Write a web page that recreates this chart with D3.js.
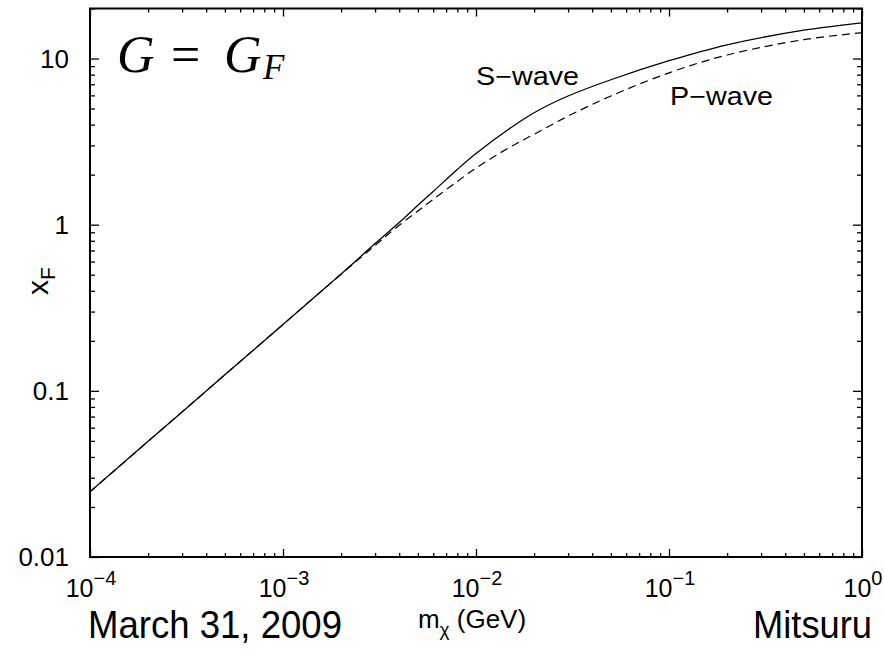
<!DOCTYPE html>
<html>
<head>
<meta charset="utf-8">
<script src="https://cdn.jsdelivr.net/npm/d3@7"></script>
<style>
  body { margin: 0; background: #fff; }
  svg { display: block; }
  text { font-family: "Liberation Sans", Arial, sans-serif; fill: #000; }
</style>
</head>
<body>
<div id="chart"></div>
<script>
// dark matter mass (GeV) and freeze-out x_F
var massGeV  = [1e-4, 3e-4, 1e-3, 2e-3, 3e-3, 4e-3, 5e-3, 6e-3, 8e-3, 1e-2, 1.5e-2, 2e-2, 3e-2, 5e-2, 0.1, 0.2, 0.5, 1];
var xF_sWave = [0.0247, 0.0747, 0.251, 0.505, 0.77, 1.03, 1.31, 1.585, 2.15, 2.68, 3.8, 4.72, 5.95, 7.45, 9.7, 12.1, 14.8, 16.4];
var xF_pWave = [0.0247, 0.0747, 0.251, 0.503, 0.75, 0.992, 1.21, 1.42, 1.82, 2.19, 2.93, 3.5, 4.5, 5.95, 8.2, 10.5, 13.0, 14.3];

var xMajor = [1e-4, 1e-3, 1e-2, 1e-1, 1];
var xExp   = ["\u22124", "\u22123", "\u22122", "\u22121", "0"];
var yMajor = [0.01, 0.1, 1, 10];
var yLabels = ["0.01", "0.1", "1", "10"];

var W = 884, H = 651;
var pLeft = 90, pRight = 862, pTop = 8.5, pBottom = 557;

var svg = d3.select("#chart").append("svg").attr("width", W).attr("height", H);
svg.append("rect").attr("width", W).attr("height", H).attr("fill", "#fff");

var x = d3.scaleLog().domain([1e-4, 1]).range([pLeft, pRight]);
var y = d3.scaleLog().domain([0.01, 20]).range([pBottom, pTop]);

function minors(lo, hi) {
	var out = [];
	for (var e = lo; e < hi; e++)
		for (var k = 2; k <= 9; k++) out.push(k * Math.pow(10, e));
	return out;
}
var xMinor = minors(-4, 0);
var yMinor = minors(-2, 2).filter(function(v) { return v <= 20; });

function tickAxis(axis, ticks, size, transform) {
	var g = svg.append("g").attr("transform", transform)
		.call(axis.tickValues(ticks).tickSize(size).tickFormat(""));
	g.select(".domain").remove();
	g.selectAll("line").attr("stroke", "#000").attr("stroke-width", 1.3);
}
// inward ticks on all four sides
tickAxis(d3.axisBottom(x), xMajor, -8, "translate(0," + pBottom + ")");
tickAxis(d3.axisBottom(x), xMinor, -4, "translate(0," + pBottom + ")");
tickAxis(d3.axisTop(x), xMajor, -8, "translate(0," + pTop + ")");
tickAxis(d3.axisTop(x), xMinor, -4, "translate(0," + pTop + ")");
tickAxis(d3.axisLeft(y), yMajor, -9, "translate(" + pLeft + ",0)");
tickAxis(d3.axisLeft(y), yMinor, -5, "translate(" + pLeft + ",0)");
tickAxis(d3.axisRight(y), yMajor, -9, "translate(" + pRight + ",0)");
tickAxis(d3.axisRight(y), yMinor, -5, "translate(" + pRight + ",0)");

svg.append("rect")
	.attr("x", pLeft).attr("y", pTop)
	.attr("width", pRight - pLeft).attr("height", pBottom - pTop)
	.attr("fill", "none").attr("stroke", "#000").attr("stroke-width", 2);

// tick labels
svg.selectAll(".ylab").data(yMajor).enter().append("text")
	.attr("x", 69).attr("y", function(d) { return y(d); })
	.attr("dy", "0.36em")
	.attr("text-anchor", "end")
	.style("font-size", "26px")
	.text(function(d, i) { return yLabels[i]; });

var xl = svg.selectAll(".xlab").data(xMajor).enter().append("text")
	.attr("x", function(d) { return x(d) + 1; }).attr("y", 597)
	.attr("text-anchor", "middle")
	.style("font-size", "25px");
xl.append("tspan").text("10");
xl.append("tspan").attr("dy", -12).style("font-size", "20px").text(function(d, i) { return xExp[i]; });

// axis titles
var xt = svg.append("text").attr("x", 472).attr("y", 628)
	.attr("text-anchor", "middle").style("font-size", "26px");
xt.append("tspan").text("m");
xt.append("tspan").attr("dy", 8).style("font-size", "19px").text("\u03c7");
xt.append("tspan").attr("dy", -8).text(" (GeV)");

var yt = svg.append("text").attr("transform", "translate(48,281) rotate(-90)")
	.attr("text-anchor", "middle").style("font-size", "30px");
yt.append("tspan").text("x");
yt.append("tspan").attr("dy", 7).style("font-size", "21px").text("F");

// curves
svg.append("clipPath").attr("id", "clip").append("rect")
	.attr("x", pLeft).attr("y", pTop).attr("width", pRight - pLeft).attr("height", pBottom - pTop);

var line = d3.line()
	.x(function(d) { return x(d[0]); })
	.y(function(d) { return y(d[1]); })
	.curve(d3.curveCatmullRom.alpha(0.5));

svg.append("path")
	.datum(d3.zip(massGeV, xF_sWave))
	.attr("clip-path", "url(#clip)")
	.attr("fill", "none").attr("stroke", "#000").attr("stroke-width", 1.3)
	.attr("d", line);

svg.append("path")
	.datum(d3.zip(massGeV, xF_pWave))
	.attr("clip-path", "url(#clip)")
	.attr("fill", "none").attr("stroke", "#000").attr("stroke-width", 1.2)
	.attr("stroke-dasharray", "8,5")
	.attr("d", line);

// labels inside the plot
svg.append("text").attr("x", 476).attr("y", 85)
	.attr("textLength", 103).attr("lengthAdjust", "spacingAndGlyphs")
	.style("font-size", "25px").text("S\u2212wave");
svg.append("text").attr("x", 670).attr("y", 105)
	.attr("textLength", 103).attr("lengthAdjust", "spacingAndGlyphs")
	.style("font-size", "25px").text("P\u2212wave");

var gf = svg.append("text").attr("y", 71.5)
	.style("font-family", "'Liberation Serif', 'DejaVu Serif', serif")
	.style("font-size", "52px");
gf.append("tspan").attr("x", 117).style("font-style", "italic").text("G");
gf.append("tspan").attr("x", 171).text("=");
gf.append("tspan").attr("x", 224).style("font-style", "italic").text("G");
gf.append("tspan").attr("x", 263).attr("dy", 7).style("font-style", "italic").style("font-size", "35px").text("F");

// footer
svg.append("text").attr("x", 88).attr("y", 638)
	.attr("textLength", 254).attr("lengthAdjust", "spacingAndGlyphs")
	.style("font-size", "39px").text("March 31, 2009");
svg.append("text").attr("x", 753).attr("y", 638)
	.attr("textLength", 119).attr("lengthAdjust", "spacingAndGlyphs")
	.style("font-size", "39px").text("Mitsuru");
</script>
</body>
</html>
